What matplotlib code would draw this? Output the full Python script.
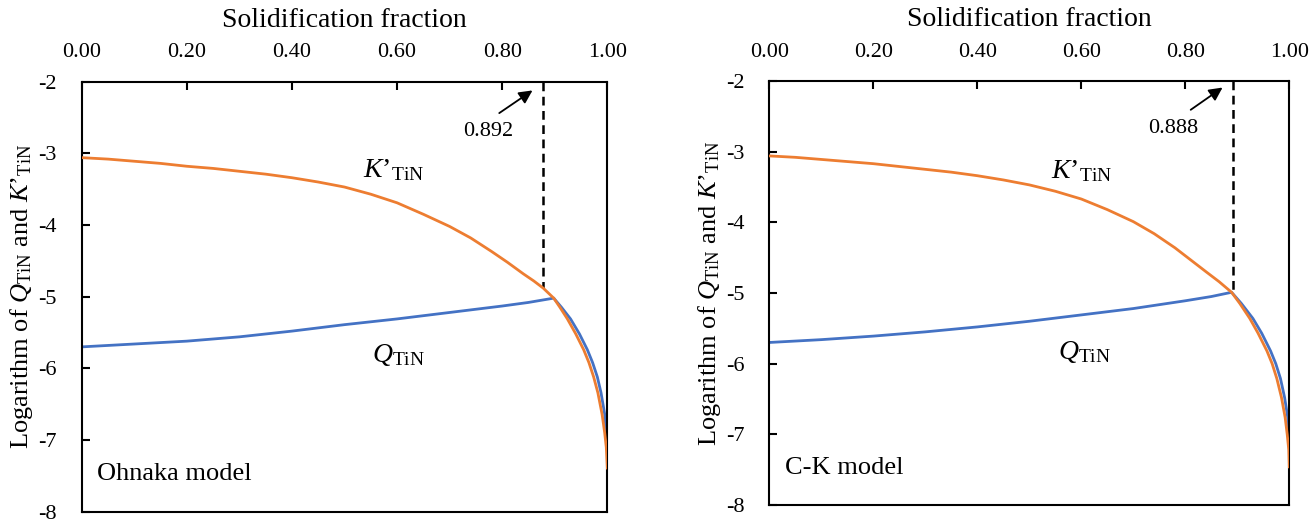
import matplotlib
matplotlib.use("Agg")
import matplotlib.pyplot as plt

plt.rcParams["font.family"] = ["Liberation Serif", "DejaVu Serif"]
plt.rcParams["mathtext.fontset"] = "custom"
plt.rcParams["mathtext.rm"] = "Liberation Serif"
plt.rcParams["mathtext.it"] = "Liberation Serif:italic"
plt.rcParams["axes.unicode_minus"] = False

# Ohnaka model (left panel)
fs_k_ohnaka = [0.00, 0.05, 0.10, 0.15, 0.20, 0.25, 0.30, 0.35, 0.40, 0.45, 0.50, 0.55, 0.60,
               0.65, 0.70, 0.74, 0.78, 0.81, 0.84, 0.86, 0.878, 0.898, 0.91, 0.924, 0.94,
               0.955, 0.965, 0.974, 0.982, 0.99, 0.995, 0.998, 1.00]
k_ohnaka = [-3.06, -3.08, -3.11, -3.14, -3.18, -3.21, -3.25, -3.29, -3.34, -3.40, -3.47, -3.57, -3.69,
            -3.85, -4.02, -4.18, -4.37, -4.52, -4.68, -4.78, -4.88, -5.02, -5.15, -5.31, -5.52,
            -5.74, -5.92, -6.12, -6.34, -6.64, -6.90, -7.10, -7.39]
fs_q_ohnaka = [0.00, 0.10, 0.20, 0.30, 0.40, 0.50, 0.60, 0.70, 0.80, 0.85, 0.898,
               0.913, 0.930, 0.947, 0.962, 0.972, 0.981, 0.988, 0.995, 0.998, 1.00]
q_ohnaka = [-5.70, -5.66, -5.62, -5.56, -5.48, -5.39, -5.31, -5.22, -5.13, -5.08, -5.02,
            -5.15, -5.31, -5.52, -5.74, -5.92, -6.12, -6.34, -6.64, -6.90, -7.09]
crit_ohnaka = 0.878
crit_ohnaka_y = -4.88

# C-K model (right panel)
fs_k_ck = [0.00, 0.05, 0.10, 0.15, 0.20, 0.25, 0.30, 0.35, 0.40, 0.45, 0.50, 0.55, 0.60,
           0.65, 0.70, 0.74, 0.78, 0.81, 0.84, 0.865, 0.889, 0.905, 0.924, 0.94,
           0.957, 0.967, 0.976, 0.985, 0.992, 0.996, 0.999, 1.00]
k_ck = [-3.06, -3.08, -3.11, -3.14, -3.17, -3.21, -3.25, -3.29, -3.34, -3.40, -3.47, -3.56, -3.67,
        -3.82, -3.99, -4.16, -4.36, -4.53, -4.70, -4.84, -4.99, -5.15, -5.36, -5.57,
        -5.82, -6.00, -6.21, -6.48, -6.76, -7.00, -7.22, -7.46]
fs_q_ck = [0.00, 0.10, 0.20, 0.30, 0.40, 0.50, 0.60, 0.70, 0.80, 0.85, 0.889,
           0.908, 0.930, 0.947, 0.964, 0.974, 0.983, 0.991, 0.997, 1.00]
q_ck = [-5.70, -5.66, -5.61, -5.55, -5.48, -5.40, -5.31, -5.22, -5.11, -5.05, -4.99,
        -5.15, -5.36, -5.57, -5.82, -6.00, -6.21, -6.48, -6.76, -7.10]
crit_ck = 0.891
crit_ck_y = -4.99

x_ticks = [0.0, 0.2, 0.4, 0.6, 0.8, 1.0]
y_ticks = [-2, -3, -4, -5, -6, -7, -8]

ORANGE = "#ED7D31"
BLUE = "#4472C4"

K_LABEL = "$\\mathit{K\u2019}_{\\mathrm{TiN}}$"
Q_LABEL = "$\\mathit{Q}_{\\mathrm{TiN}}$"

fig = plt.figure(figsize=(13.14, 5.25), dpi=100)
ax1 = fig.add_axes([0.0622, 0.0253, 0.4000, 0.8191])
ax2 = fig.add_axes([0.5855, 0.0381, 0.3957, 0.8076])


def draw_panel(ax, fs_k, k, fs_q, q, crit, crit_y, crit_label, model_name,
               k_pos, q_pos, txt_pos, arrow_tail, arrow_head):
    ax.plot(fs_k, k, color=ORANGE, lw=2.0, zorder=3)
    ax.plot(fs_q, q, color=BLUE, lw=2.0, zorder=2)
    ax.plot([crit, crit], [-2, crit_y], color="black", lw=1.8, ls=(0, (3.5, 2.2)), zorder=1)

    ax.set_xlim(0, 1)
    ax.set_ylim(-8, -2)
    ax.set_xticks(x_ticks)
    ax.set_xticklabels([f"{t:.2f}" for t in x_ticks])
    ax.set_yticks(y_ticks)
    ax.set_yticklabels([str(t) for t in y_ticks])

    ax.xaxis.set_label_position("top")
    ax.xaxis.tick_top()
    ax.tick_params(axis="x", direction="in", length=6, width=1.5, labelsize=16, pad=14)
    ax.tick_params(axis="y", direction="in", length=6, width=1.5, labelsize=16, pad=18)
    ax.tick_params(axis="y", right=False)
    for sp in ax.spines.values():
        sp.set_linewidth(1.5)

    ax.set_xlabel("Solidification fraction", fontsize=20, labelpad=12)
    ax.set_ylabel("Logarithm of " + Q_LABEL + " and " + K_LABEL, fontsize=19, labelpad=2)

    ax.text(k_pos[0], k_pos[1], K_LABEL, fontsize=20, ha="center", va="center")
    ax.text(q_pos[0], q_pos[1], Q_LABEL, fontsize=20, ha="center", va="center")
    ax.text(0.03, -7.47, model_name, fontsize=19, ha="left", va="center")

    ax.annotate("", xy=arrow_head, xytext=arrow_tail,
                arrowprops=dict(arrowstyle="-|>", color="black", lw=1.3, mutation_scale=20))
    ax.text(txt_pos[0], txt_pos[1], crit_label, fontsize=16, ha="center", va="center")


draw_panel(ax1, fs_k_ohnaka, k_ohnaka, fs_q_ohnaka, q_ohnaka, crit_ohnaka, crit_ohnaka_y,
           "0.892", "Ohnaka model", (0.593, -3.23), (0.603, -5.81),
           (0.774, -2.70), (0.790, -2.46), (0.862, -2.10))
draw_panel(ax2, fs_k_ck, k_ck, fs_q_ck, q_ck, crit_ck, crit_ck_y,
           "0.888", "C-K model", (0.601, -3.27), (0.607, -5.83),
           (0.777, -2.67), (0.806, -2.43), (0.876, -2.07))

fig.savefig("out.png", dpi=100)
